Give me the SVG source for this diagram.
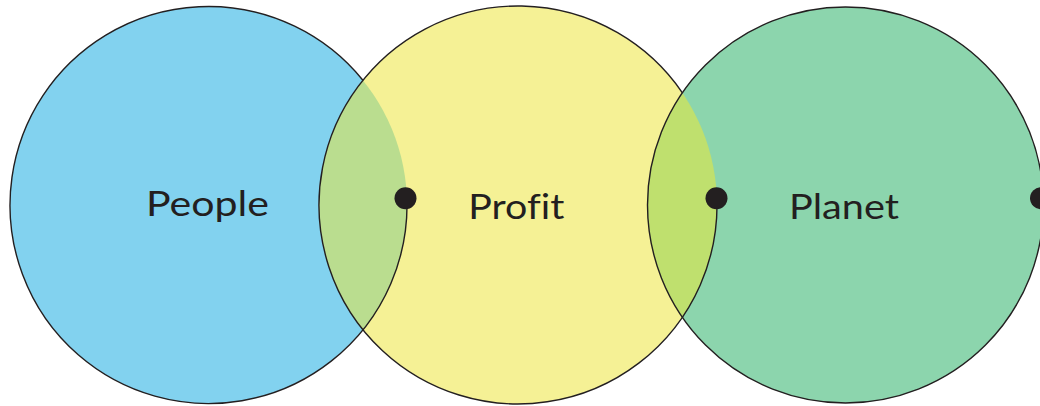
<svg xmlns="http://www.w3.org/2000/svg" width="1040" height="406" viewBox="0 0 1040 406">
  <style>
    .outline { fill: none; stroke: #231f20; stroke-width: 1.4; }
    .dot { fill: #231f20; }
    .label { font-family: "Lato", "Liberation Sans", sans-serif; font-size: 35px; fill: #231f20; text-anchor: middle; font-variant-ligatures: none; font-feature-settings: "liga" 0; }
  </style>
  <defs>
    <clipPath id="clipBlue"><circle cx="208.5" cy="205" r="198.5"/></clipPath>
    <clipPath id="clipYellow"><circle cx="518" cy="205" r="199"/></clipPath>
  </defs>
  <rect width="1040" height="406" fill="#ffffff"/>
  <g id="fills">
    <circle cx="208.5" cy="205" r="198.5" fill="#82d2ef"/>
    <circle cx="518" cy="205" r="199" fill="#f5f195"/>
    <circle cx="845.5" cy="205" r="198" fill="#8cd5ad"/>
  </g>
  <g id="overlaps">
    <circle cx="518" cy="205" r="199" fill="#badd8f" clip-path="url(#clipBlue)"/>
    <circle cx="845.5" cy="205" r="198" fill="#bfe06e" clip-path="url(#clipYellow)"/>
  </g>
  <g id="connectors"></g>
  <g id="people">
    <path class="outline" d="M 406.9 198.1 A 198.5 198.5 0 1 1 362.9 80.3"/>
    <circle class="dot" cx="405.5" cy="198.3" r="11"/>
    <text class="label" x="207.5" y="215.7" textLength="123" lengthAdjust="spacingAndGlyphs">People</text>
  </g>
  <g id="profit">
    <path class="outline" d="M 716.9 198.1 A 199 199 0 1 1 682.4 92.8"/>
    <circle class="dot" cx="716.5" cy="198.3" r="11"/>
    <text class="label" x="516.3" y="219" textLength="96" lengthAdjust="spacingAndGlyphs">Profit</text>
  </g>
  <g id="planet">
    <circle class="outline" cx="845.5" cy="205" r="198"/>
    <circle class="dot" cx="1041" cy="198.3" r="11"/>
    <text class="label" x="844" y="219.3" textLength="110" lengthAdjust="spacingAndGlyphs">Planet</text>
  </g>
</svg>
